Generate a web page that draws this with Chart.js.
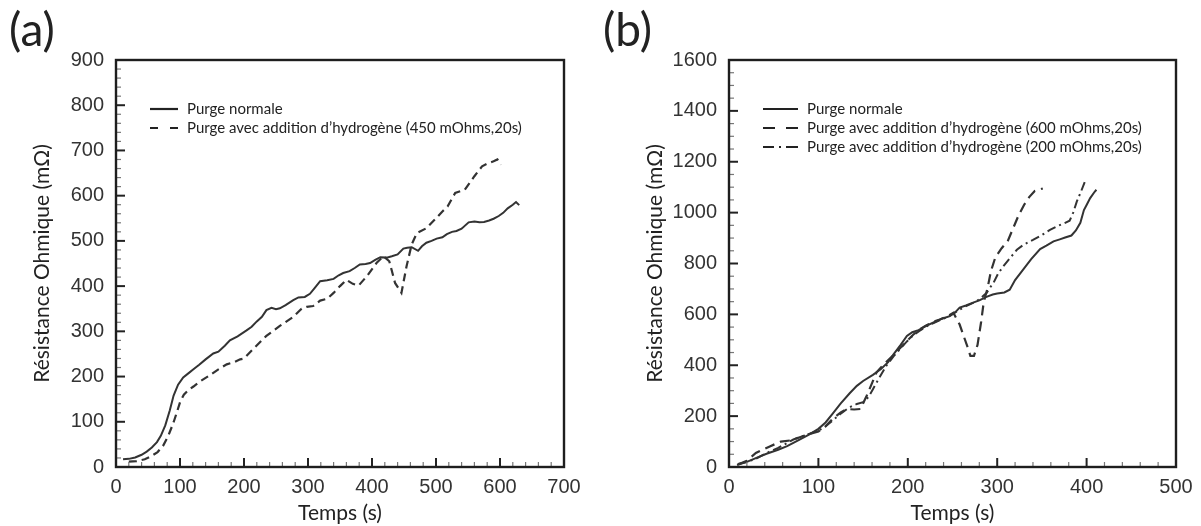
<!DOCTYPE html>
<html>
<head>
<meta charset="utf-8">
<script src="https://cdn.jsdelivr.net/npm/chart.js@4.4.0/dist/chart.umd.min.js"></script>
<style>
  html, body { margin: 0; padding: 0; background: #fff; }
  #wrap { position: relative; width: 1201px; height: 526px; overflow: hidden; }
  .panel { position: absolute; top: 0; }
  .tag { position: absolute; font-family: Lato, sans-serif; font-size: 46px; color: #222; line-height: 1; }
</style>
</head>
<body>
<div id="wrap">
  <div class="panel" style="left:0"><canvas id="chartA" width="600" height="526"></canvas></div>
  <div class="panel" style="left:600px"><canvas id="chartB" width="601" height="526"></canvas></div>
  <div class="tag" style="left:9px;top:6px">(a)</div>
  <div class="tag" style="left:603px;top:6px">(b)</div>
</div>
<script>
// ---- (a) ----
const labelsA = ['Purge normale', 'Purge avec addition d’hydrogène (450 mOhms,20s)'];
const timeA1 = [11, 20, 30, 40, 48, 56, 64, 70, 77, 84, 90, 97, 105, 113, 121, 130, 140, 152, 160, 170, 178, 190, 204, 212, 220, 228, 235, 243, 250, 256, 265, 277, 285, 295, 303, 310, 319, 330, 340, 348, 355, 365, 373, 381, 390, 397, 405, 413, 423, 431, 440, 449, 455, 462, 472, 478, 485, 493, 501, 510, 517, 525, 532, 540, 551, 560, 568, 575, 583, 590, 598, 605, 612, 620, 625, 630];
const resA1 = [17, 18, 21, 27, 34, 43, 55, 69, 92, 125, 158, 182, 198, 207, 216, 226, 238, 251, 255, 268, 280, 289, 302, 310, 322, 332, 347, 352, 349, 351, 358, 369, 375, 376, 383, 395, 411, 413, 416, 424, 429, 433, 440, 448, 449, 451, 458, 464, 463, 466, 470, 483, 485, 486, 478, 488, 496, 500, 505, 508, 515, 520, 522, 527, 541, 543, 541, 542, 545, 549, 555, 562, 572, 580, 586, 579];
const timeA2 = [20, 32, 45, 55, 65, 74, 82, 90, 96, 100, 106, 113, 121, 130, 140, 147, 160, 173, 185, 194, 200, 215, 235, 256, 277, 290, 298, 308, 319, 330, 340, 350, 360, 370, 379, 392, 407, 418, 427, 436, 446, 454, 462, 470, 485, 500, 510, 518, 530, 545, 560, 572, 582, 590, 596, 602];
const resA2 = [12, 13, 17, 24, 33, 48, 70, 99, 125, 143, 160, 170, 178, 188, 197, 203, 216, 227, 232, 238, 240, 262, 290, 312, 332, 350, 354, 356, 368, 372, 385, 400, 414, 405, 401, 422, 451, 466, 455, 407, 385, 444, 492, 517, 528, 550, 565, 576, 606, 613, 643, 665, 672, 676, 680, 669];
const xTicksA = [0, 100, 200, 300, 400, 500, 600, 700];
const yTicksA = [0, 100, 200, 300, 400, 500, 600, 700, 800, 900];

// ---- (b) ----
const labelsB = ['Purge normale', 'Purge avec addition d’hydrogène (600 mOhms,20s)', 'Purge avec addition d’hydrogène (200 mOhms,20s)'];
const timeB1 = [9, 20, 30, 42, 55, 65, 72, 80, 90, 100, 108, 116, 125, 135, 143, 150, 161, 170, 178, 184, 192, 199, 205, 212, 221, 230, 238, 247, 253, 258, 265, 273, 280, 288, 295, 300, 308, 314, 320, 329, 338, 348, 355, 363, 370, 376, 383, 388, 393, 397, 400, 404, 409, 411];
const resB1 = [8, 20, 35, 52, 68, 82, 95, 110, 128, 150, 175, 210, 250, 290, 319, 338, 362, 385, 412, 443, 480, 515, 530, 538, 556, 570, 583, 593, 608, 627, 635, 646, 655, 669, 678, 682, 686, 697, 735, 776, 817, 857, 870, 887, 895, 902, 910, 930, 960, 1010, 1030, 1057, 1082, 1090];
const timeB2 = [10, 20, 30, 45, 58, 70, 80, 90, 100, 108, 116, 125, 132, 140, 147, 154, 160, 165, 175, 184, 192, 199, 206, 213, 220, 228, 236, 244, 251, 258, 263, 267, 270, 274, 278, 282, 285, 289, 293, 298, 305, 312, 318, 324, 330, 336, 342, 351];
const resB2 = [10, 25, 55, 80, 100, 105, 118, 130, 140, 160, 190, 215, 228, 226, 228, 280, 330, 372, 410, 440, 470, 495, 520, 540, 555, 570, 580, 592, 606, 560, 510, 470, 437, 437, 480, 570, 650, 700, 770, 825, 860, 890, 940, 990, 1030, 1062, 1085, 1095];
const timeB3 = [10, 20, 30, 42, 55, 72, 85, 100, 108, 116, 125, 135, 143, 150, 156, 161, 168, 176, 184, 191, 198, 206, 213, 221, 230, 240, 247, 255, 262, 270, 277, 283, 288, 292, 296, 301, 307, 314, 322, 330, 340, 350, 359, 368, 376, 381, 385, 389, 394, 398];
const resB3 = [12, 20, 32, 55, 75, 108, 125, 143, 160, 183, 210, 235, 248, 255, 275, 306, 350, 398, 435, 463, 490, 518, 535, 553, 568, 583, 595, 612, 627, 640, 652, 668, 684, 705, 725, 760, 790, 820, 854, 875, 893, 912, 932, 948, 960, 968, 1000, 1043, 1085, 1121];
const xTicksB = [0, 100, 200, 300, 400, 500];
const yTicksB = [0, 200, 400, 600, 800, 1000, 1200, 1400, 1600];

const pts = (xs, ys) => xs.map((x, i) => ({ x: x, y: ys[i] }));

// inward ticks + box frame
const framePlugin = {
    id: 'frame',
    afterDatasetsDraw(chart, args, opts) {
        const { ctx, chartArea: a } = chart;
        const x = chart.scales.x, y = chart.scales.y;
        ctx.save();
        const seg = (x1, y1, x2, y2) => {
            ctx.beginPath(); ctx.moveTo(x1, y1); ctx.lineTo(x2, y2); ctx.stroke();
        };
        for (let v = x.min; v <= x.max + 1e-6; v += opts.xMinor) {
            const px = x.getPixelForValue(v);
            const major = Math.abs(v % opts.xMajor) < 1e-6;
            ctx.strokeStyle = major ? '#222' : '#777';
            ctx.lineWidth = major ? 2 : 1.2;
            seg(px, a.bottom, px, a.bottom - (major ? 9 : 5));
        }
        for (let v = y.min; v <= y.max + 1e-6; v += opts.yMinor) {
            const py = y.getPixelForValue(v);
            const major = Math.abs(v % opts.yMajor) < 1e-6;
            ctx.strokeStyle = major ? '#222' : '#777';
            ctx.lineWidth = major ? 2 : 1.2;
            seg(a.left, py, a.left + (major ? 9 : 5), py);
        }
        ctx.strokeStyle = '#1e1e1e';
        ctx.lineWidth = 2.4;
        ctx.strokeRect(a.left, a.top, a.right - a.left, a.bottom - a.top);
        ctx.restore();
    }
};

// legend drawn inside the plot area
const innerLegend = {
    id: 'innerLegend',
    afterDraw(chart, args, opts) {
        const { ctx, chartArea: a } = chart;
        ctx.save();
        ctx.font = opts.font;
        ctx.textBaseline = 'middle';
        ctx.fillStyle = '#222';
        chart.data.datasets.forEach((ds, i) => {
            const yy = a.top + opts.top + i * opts.row;
            const x0 = a.left + opts.left;
            ctx.strokeStyle = '#222';
            ctx.lineWidth = 2.2;
            ctx.setLineDash(opts.dashes[i]);
            ctx.beginPath(); ctx.moveTo(x0, yy); ctx.lineTo(x0 + opts.sample, yy); ctx.stroke();
            ctx.setLineDash([]);
            ctx.fillText(ds.label, x0 + opts.sample + opts.gap, yy);
        });
        ctx.restore();
    }
};

function makeChart(id, cfg) {
    const tickFont = { family: 'Liberation Sans', size: 20 };
    const titleFont = { family: 'Lato', size: 21 };
    return new Chart(document.getElementById(id).getContext('2d'), {
        type: 'line',
        data: { datasets: cfg.datasets },
        options: {
            responsive: false,
            animation: false,
            layout: { padding: { top: 60, right: cfg.padRight, bottom: 0, left: 0 } },
            elements: { point: { radius: 0 }, line: { tension: 0 } },
            plugins: {
                legend: { display: false },
                tooltip: { enabled: false },
                frame: cfg.frame,
                innerLegend: cfg.legend,
            },
            scales: {
                x: {
                    type: 'linear',
                    min: cfg.xTicks[0],
                    max: cfg.xTicks[cfg.xTicks.length - 1],
                    afterFit: (s) => { s.height = 59; },
                    ticks: { stepSize: cfg.xTicks[1] - cfg.xTicks[0], autoSkip: false, padding: 8, color: '#333', font: tickFont, maxRotation: 0, callback: (v) => String(v) },
                    grid: { display: false, drawTicks: false },
                    border: { display: false },
                    title: { display: true, text: 'Temps (s)', color: '#222', font: titleFont, padding: { top: 0, bottom: 0 } },
                },
                y: {
                    min: cfg.yTicks[0],
                    max: cfg.yTicks[cfg.yTicks.length - 1],
                    afterFit: (s) => { s.width = cfg.axisLeft; },
                    ticks: { stepSize: cfg.yTicks[1] - cfg.yTicks[0], autoSkip: false, padding: 12, color: '#333', font: tickFont, callback: (v) => String(v) },
                    grid: { display: false, drawTicks: false },
                    border: { display: false },
                    title: { display: true, text: 'Résistance Ohmique (mΩ)', color: '#222', font: titleFont, padding: { top: cfg.titlePad, bottom: 0 } },
                },
            },
        },
        plugins: [framePlugin, innerLegend],
    });
}

const lineColor = '#333';

makeChart('chartA', {
    datasets: [
        { label: labelsA[0], data: pts(timeA1, resA1), borderColor: lineColor, borderWidth: 2, fill: false },
        { label: labelsA[1], data: pts(timeA2, resA2), borderColor: lineColor, borderWidth: 2.2, borderDash: [8, 5], fill: false },
    ],
    xTicks: xTicksA, yTicks: yTicksA,
    axisLeft: 116, padRight: 36, titlePad: 30,
    frame: { xMinor: 20, xMajor: 100, yMinor: 20, yMajor: 100 },
    legend: { font: '15px Lato', top: 49, row: 19, left: 34, sample: 28, gap: 9, dashes: [[], [8, 12]] },
});

makeChart('chartB', {
    datasets: [
        { label: labelsB[0], data: pts(timeB1, resB1), borderColor: lineColor, borderWidth: 2, fill: false },
        { label: labelsB[1], data: pts(timeB2, resB2), borderColor: lineColor, borderWidth: 2.2, borderDash: [10, 6], fill: false },
        { label: labelsB[2], data: pts(timeB3, resB3), borderColor: lineColor, borderWidth: 2, borderDash: [9, 4, 2, 4], fill: false },
    ],
    xTicks: xTicksB, yTicks: yTicksB,
    axisLeft: 129, padRight: 25, titlePad: 43,
    frame: { xMinor: 20, xMajor: 100, yMinor: 50, yMajor: 200 },
    legend: { font: '15px Lato', top: 49, row: 19, left: 34, sample: 35, gap: 9, dashes: [[], [12, 11], [11, 5, 2, 5, 12]] },
});
</script>
</body>
</html>
